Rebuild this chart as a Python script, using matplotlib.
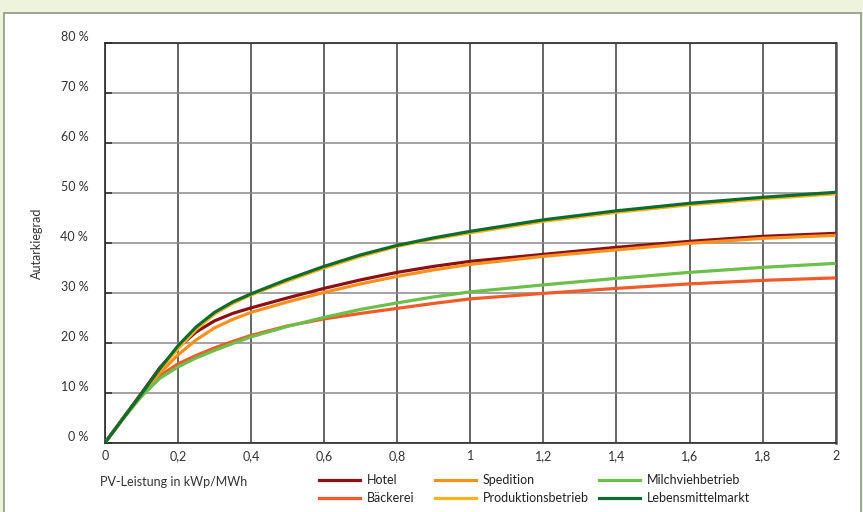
import matplotlib
matplotlib.use('Agg')
from matplotlib import pyplot as plt
from matplotlib.patches import Rectangle
from matplotlib.lines import Line2D

# PV-Leistung in kWp/MWh
x = [0, 0.05, 0.1, 0.15, 0.2, 0.25, 0.3, 0.35, 0.4, 0.5, 0.6, 0.7, 0.8, 0.9,
     1.0, 1.2, 1.4, 1.6, 1.8, 2.0]

# Autarkiegrad in %
hotel = [0, 5.0, 9.9, 15.0, 19.0, 22.2, 24.4, 25.9, 27.0, 29.0, 30.9, 32.6, 34.1, 35.3,
         36.3, 37.7, 39.1, 40.3, 41.3, 41.9]
baeckerei = [0, 4.9, 9.4, 13.4, 15.8, 17.5, 19.0, 20.3, 21.5, 23.4, 24.8, 25.9, 26.9, 27.9,
             28.8, 29.9, 30.9, 31.8, 32.5, 33.0]
spedition = [0, 4.9, 9.5, 13.9, 17.6, 20.6, 23.0, 24.7, 26.1, 28.2, 30.1, 31.8, 33.3, 34.6,
             35.7, 37.3, 38.6, 39.9, 40.9, 41.5]
produktion = [0, 4.9, 9.6, 14.6, 18.8, 22.7, 25.8, 27.9, 29.6, 32.4, 35.0, 37.3, 39.3, 40.8,
              42.0, 44.3, 46.1, 47.6, 48.8, 49.8]
milchvieh = [0, 4.9, 9.3, 12.9, 15.2, 17.0, 18.5, 19.9, 21.2, 23.3, 25.1, 26.7, 28.0, 29.2,
             30.2, 31.6, 32.9, 34.1, 35.1, 35.9]
lebensmittel = [0, 4.9, 9.8, 14.8, 19.4, 23.2, 26.1, 28.2, 29.8, 32.7, 35.3, 37.6, 39.5, 41.0,
                42.3, 44.6, 46.4, 47.9, 49.1, 50.1]

names = ['Hotel', 'Bäckerei', 'Spedition', 'Produktionsbetrieb', 'Milchviehbetrieb', 'Lebensmittelmarkt']
series = [hotel, baeckerei, spedition, produktion, milchvieh, lebensmittel]
colors = ['#8b1014', '#f15a29', '#f7901e', '#fbb417', '#6cbf4a', '#106b30']

x_ticks = [0, 0.2, 0.4, 0.6, 0.8, 1.0, 1.2, 1.4, 1.6, 1.8, 2.0]
x_labels = ['0', '0,2', '0,4', '0,6', '0,8', '1', '1,2', '1,4', '1,6', '1,8', '2']
y_ticks = [0, 10, 20, 30, 40, 50, 60, 70, 80]
y_labels = ['{} %'.format(v) for v in y_ticks]


def main():
    plt.rcParams['font.family'] = ['Lato', 'DejaVu Sans']
    plt.rcParams['font.size'] = 9

    fig = plt.figure(figsize=(8.63, 5.12), dpi=100)
    fig.patch.set_facecolor('#eef3de')

    # weisses Panel mit Rahmen
    panel = Rectangle((4 / 863, -0.01), 857 / 863, 1 - 13 / 512 + 0.01,
                      transform=fig.transFigure, facecolor='white',
                      edgecolor='#8d9a82', linewidth=1.2, zorder=0)
    fig.add_artist(panel)

    ax = fig.add_axes([104.8 / 863, 69 / 512, 730.9 / 863, 400.3 / 512])
    ax.set_facecolor('white')

    for vals, name, c in zip(series, names, colors):
        ax.plot(x, vals, color=c, linewidth=2.3, label=name,
                solid_joinstyle='round', solid_capstyle='butt', zorder=3)

    ax.set_xlim(0, 2)
    ax.set_ylim(0, 80)
    ax.set_xticks(x_ticks)
    ax.set_xticklabels(x_labels, color='#333333')
    ax.set_yticks(y_ticks)
    ax.set_yticklabels(y_labels, color='#333333')
    plt.setp(ax.get_yticklabels(), va='bottom')

    ax.tick_params(axis='y', direction='in', length=5, width=1.4, color='#444444', pad=12)
    ax.tick_params(axis='x', length=0, pad=5)

    # Gitter: senkrecht dunkel, waagerecht grau
    ax.xaxis.grid(True, color='#3c3c3c', linewidth=1.1)
    ax.yaxis.grid(True, color='#8a8a8a', linewidth=1.1)
    ax.set_axisbelow(True)

    for side in ['left', 'bottom', 'top']:
        ax.spines[side].set_color('#2a2a2a')
        ax.spines[side].set_linewidth(1.2)
    ax.spines['right'].set_color('#555555')
    ax.spines['right'].set_linewidth(1.8)

    fig.text(37 / 863, 1 - 243 / 512, 'Autarkiegrad', rotation=90,
             ha='center', va='center', color='#333333', fontsize=9)
    fig.text(100 / 863, 1 - 482 / 512, 'PV-Leistung in kWp/MWh',
             ha='left', va='center', color='#333333', fontsize=9)

    # Legende, drei Spalten
    col_x = [319, 435, 599]
    row_y = [480, 498]
    for i, (name, c) in enumerate(zip(names, colors)):
        cx = col_x[i // 2]
        cy = 1 - row_y[i % 2] / 512
        fig.add_artist(Line2D([cx / 863, (cx + 41) / 863], [cy, cy],
                              transform=fig.transFigure, color=c, linewidth=2.3))
        fig.text((cx + 48) / 863, cy, name, ha='left', va='center',
                 color='#222222', fontsize=9)

    fig.savefig('out.png', dpi=100, facecolor=fig.get_facecolor())


if __name__ == '__main__':
    main()
